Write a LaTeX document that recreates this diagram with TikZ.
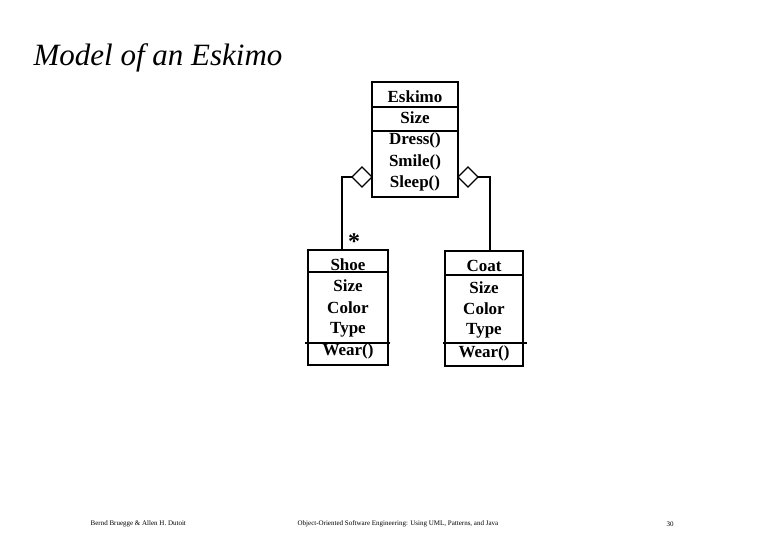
\documentclass[tikz,border=0pt]{standalone}
\usepackage{fontspec}
\setmainfont{Liberation Serif}
\begin{document}
\begin{tikzpicture}[x=1pt,y=-1pt,line width=1.3pt,
  t/.style={font=\fontsize{17}{17}\selectfont\bfseries,inner sep=0pt,anchor=center}]
\useasboundingbox (0,0) rectangle (780,540);
\node[anchor=west,font=\fontsize{31}{31}\selectfont\itshape,inner sep=0] (title) at (33,58) {Model of an Eskimo};
% Eskimo
\draw (372,82) rectangle (458,197);
\draw (372,107) -- (458,107); \draw (372,131) -- (458,131);
\node[t] (e1) at (415,97) {Eskimo};
\node[t] (e2) at (415,118) {Size};
\node[t] (e3) at (415,140) {Dress()};
\node[t] (e4) at (415,162) {Smile()};
\node[t] (e5) at (415,183) {Sleep()};
% Shoe
\draw (308,250) rectangle (388,365);
\draw (308,272) -- (388,272); \draw (305,343) -- (390,343);
\node[t] (s1) at (348,265) {Shoe};
\node[t] (s2) at (348,286) {Size};
\node[t] (s3) at (348,308) {Color};
\node[t] (s4) at (348,330) {Type};
\node[t] (s5) at (348,351) {Wear()};
% Coat
\draw (445,251) rectangle (523,366);
\draw (445,275) -- (523,275); \draw (443,343) -- (527,343);
\node[t] (c1) at (484,266) {Coat};
\node[t] (c2) at (484,288) {Size};
\node[t] (c3) at (484,309) {Color};
\node[t] (c4) at (484,331) {Type};
\node[t] (c5) at (484,353) {Wear()};
% aggregations
\draw (342,250) -- (342,177) -- (352,177);
\draw (352,177) -- (362,167) -- (372,177) -- (362,187) -- cycle;
\draw (490,251) -- (490,177) -- (478,177);
\draw (478,177) -- (468,167) -- (458,177) -- (468,187) -- cycle;
\node[font=\fontsize{24}{24}\selectfont\bfseries,inner sep=0] (star) at (354,242) {*};
% footer
\node[anchor=west,font=\fontsize{7}{7}\selectfont,inner sep=0] (f1) at (90,524) {Bernd Bruegge \& Allen H. Dutoit};
\node[anchor=west,font=\fontsize{7}{7}\selectfont,inner sep=0] (f2) at (297,524) {Object-Oriented Software Engineering: Using UML, Patterns, and Java};
\node[font=\fontsize{7}{7}\selectfont,inner sep=0] (f3) at (670,524) {30};
\end{tikzpicture}
\end{document}
